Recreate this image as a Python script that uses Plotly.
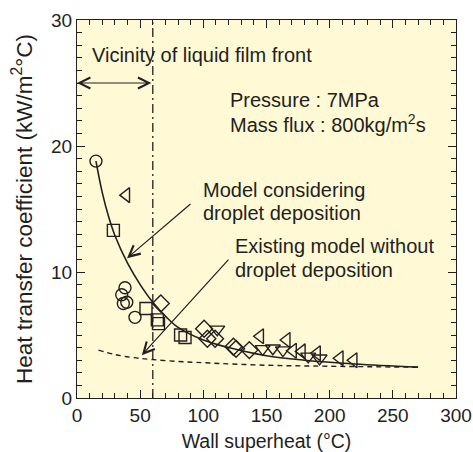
import plotly.graph_objects as go

# ---- data ----
circle_x = [15, 35.4, 36.7, 38, 39.4, 45.9]
circle_y = [18.8, 8.2, 7.5, 8.75, 7.6, 6.4]

square_x = [28.8, 54.6, 63.6, 64.5, 82, 85.5]
square_y = [13.3, 7.1, 6.2, 5.9, 5.0, 4.8]

diamond_x = [66.3, 100.6, 103.2, 109.3, 123.8, 125.9, 136.4]
diamond_y = [7.5, 5.5, 4.7, 4.7, 4.07, 3.9, 3.8]

tri_down_x = [111, 147, 155, 163, 183, 192]
tri_down_y = [5.45, 3.9, 3.95, 3.8, 3.3, 3.15]

tri_left_x = [39, 145, 166, 171, 178, 190, 208, 219]
tri_left_y = [16.1, 4.9, 4.6, 3.75, 3.7, 3.55, 3.15, 3.0]

model_x = [15, 20, 25, 30, 40, 50, 60, 70, 80, 100, 120, 150, 180, 220, 270]
model_y = [18.8, 16.3, 14.4, 12.9, 10.7, 9.0, 7.6, 6.5, 5.6, 4.6, 4.0, 3.35, 3.0, 2.7, 2.45]

exist_x = [17, 30, 45, 60, 80, 100, 150, 200, 270]
exist_y = [3.8, 3.45, 3.2, 3.05, 2.9, 2.8, 2.6, 2.52, 2.44]

front_x = 60

x_ticks = [0, 50, 100, 150, 200, 250, 300]
y_ticks = [0, 10, 20, 30]

INK = "#231F20"
FONT = "Liberation Sans, Arial, Helvetica, sans-serif"
FS = 20

fig = go.Figure()

fig.add_trace(go.Scatter(x=model_x, y=model_y, mode="lines", line=dict(color=INK, width=1.6, shape="spline"), showlegend=False))
fig.add_trace(go.Scatter(x=exist_x, y=exist_y, mode="lines", line=dict(color=INK, width=1.4, dash="5px,4px", shape="spline"), showlegend=False))

def mk(x, y, sym, size=12):
    fig.add_trace(go.Scatter(x=x, y=y, mode="markers", showlegend=False,
                             marker=dict(symbol=sym, size=size, color=INK, line=dict(color=INK, width=1.4))))

mk(circle_x, circle_y, "circle-open")
mk(square_x, square_y, "square-open")
mk(diamond_x, diamond_y, "diamond-open", 13)
mk(tri_down_x, tri_down_y, "triangle-down-open", 13)
mk(tri_left_x, tri_left_y, "triangle-left-open", 13)

fig.add_shape(type="line", x0=front_x, x1=front_x, y0=0, y1=30, xref="x", yref="y",
              line=dict(color=INK, width=1.3, dash="9px,4px,2px,4px"))

# double arrow
fig.add_annotation(x=0, y=25, ax=front_x, ay=25, xref="x", yref="y", axref="x", ayref="y",
                   text="", showarrow=True, arrowhead=5, arrowside="end+start", arrowsize=1.8,
                   arrowwidth=1.2, arrowcolor=INK, standoff=0, startstandoff=0)
# model arrow
fig.add_annotation(x=39.6, y=11.1, ax=91, ay=15.5, xref="x", yref="y", axref="x", ayref="y",
                   text="", showarrow=True, arrowhead=5, arrowsize=1.8, arrowwidth=1.2, arrowcolor=INK)
# existing model arrow
fig.add_annotation(x=51.3, y=3.4, ax=121, ay=11.1, xref="x", yref="y", axref="x", ayref="y",
                   text="", showarrow=True, arrowhead=5, arrowsize=1.8, arrowwidth=1.2, arrowcolor=INK)

texts = [
    (10.3, 27.2, "Vicinity of liquid film front"),
    (119.5, 23.65, "Pressure : 7MPa"),
    (119.5, 21.75, "Mass flux : 800kg/m<sup>2</sup>s"),
    (98.2, 16.5, "Model considering"),
    (98.2, 14.7, "droplet deposition"),
    (123.5, 12.06, "Existing model without"),
    (123.5, 10.16, "droplet deposition"),
]
for tx, ty, t in texts:
    fig.add_annotation(x=tx, y=ty, xref="x", yref="y", text=t, showarrow=False,
                       xanchor="left", yanchor="middle", font=dict(family=FONT, size=FS, color=INK))

axis_common = dict(showline=True, linecolor=INK, linewidth=1.3, mirror="ticks",
                   ticks="inside", tickcolor=INK, tickwidth=1.2, ticklen=8,
                   showgrid=False, zeroline=False,
                   tickfont=dict(family=FONT, size=19, color=INK))

fig.update_xaxes(range=[0, 300], tickvals=x_ticks,
                 minor=dict(dtick=10, ticks="inside", ticklen=5, tickcolor=INK, tickwidth=1.2),
                 title=dict(text="Wall superheat (°C)", font=dict(family=FONT, size=19.5, color=INK), standoff=10),
                 **axis_common)
fig.update_yaxes(range=[0, 30], tickvals=y_ticks,
                 minor=dict(dtick=1, ticks="inside", ticklen=5, tickcolor=INK, tickwidth=1.2),
                 title=dict(text="Heat transfer coefficient (kW/m<sup>2</sup>°C)", font=dict(family=FONT, size=22.5, color=INK), standoff=12),
                 **axis_common)

fig.update_layout(width=473, height=452, margin=dict(l=77, r=17, t=20, b=54, autoexpand=False),
                  paper_bgcolor="white", plot_bgcolor="#FFF9D6", showlegend=False)

# remove the default 8px page margin so the figure fills the window exactly
fig.write_html("out.html", config={"displayModeBar": False},
               post_script="document.body.style.margin='0px';document.body.style.overflow='hidden';")
